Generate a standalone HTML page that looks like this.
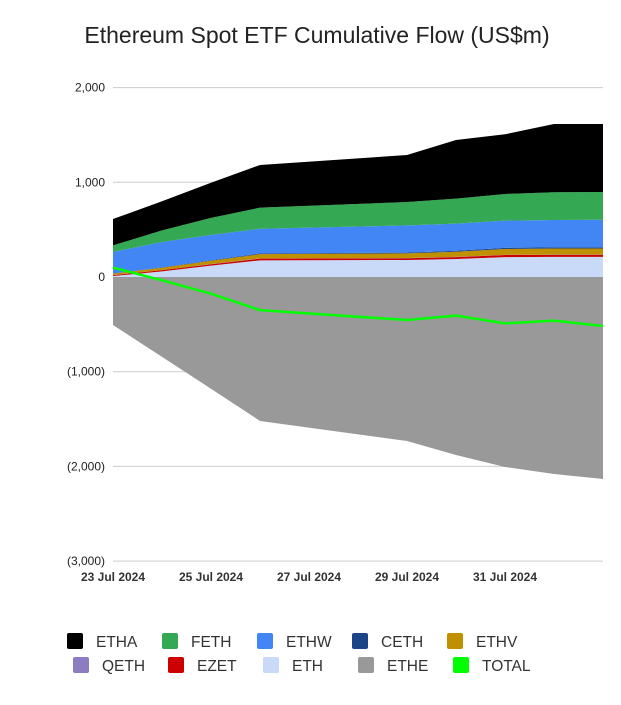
<!DOCTYPE html>
<html><head><meta charset="utf-8"><style>
body{margin:0;background:#fff;width:621px;height:700px;overflow:hidden;font-family:"Liberation Sans",Arial,sans-serif}
</style></head><body>
<svg id="c" width="621" height="700" xmlns="http://www.w3.org/2000/svg">
<text x="317" y="43" text-anchor="middle" font-size="23" fill="#222">Ethereum Spot ETF Cumulative Flow (US$m)</text>
<g id="grid"></g><g id="areas"></g><g id="lines"></g><g id="axes"></g><g id="legend"></g>
</svg>
<script>
const dayIdx=[0,1,2,3,6,7,8,9,10];
const xTickDays=[0,2,4,6,8];
const xTickLabels=["23 Jul 2024","25 Jul 2024","27 Jul 2024","29 Jul 2024","31 Jul 2024"];
const yTicks=[2000,1000,0,-1000,-2000,-3000];
const yTickLabels=["2,000","1,000","0","(1,000)","(2,000)","(3,000)"];
const ETH=[10,60,120,176,180,190,210,212,212];
const EZET=[10,12,15,18,18,20,22,22,22];
const QETH=[1,1,2,2,2,2,2,2,2];
const ETHV=[15,25,35,45,50,55,62,65,65];
const CETH=[2,3,5,8,8,10,12,12,12];
const ETHW=[226,269,268,261,287,286,287,289,292];
const FETH=[70,123,180,222,247,264,282,293,292];
const ETHA=[278,307,370,451,496,620,630,721,719];
const ETHE=[-507,-843,-1180,-1520,-1732,-1880,-2006,-2080,-2133];
const TOTAL=[100,-35,-176,-350,-454,-408,-490,-461,-518];
const NS="http://www.w3.org/2000/svg";
const X=d=>113+d*49;
const Y=v=>277-v*0.0947;
function mk(t,a,p){const e=document.createElementNS(NS,t);for(const k in a)e.setAttribute(k,a[k]);p.appendChild(e);return e;}
const grid=document.getElementById('grid'),axes=document.getElementById('axes');
yTicks.forEach((v,i)=>{
 const l=mk('line',{x1:113,x2:603,y1:Y(v),y2:Y(v),stroke:'#ccc','stroke-width':1},grid);
 
 
 const t=mk('text',{x:105,y:Y(v)+4,'text-anchor':'end','font-size':12,fill:'#222'},axes);
 t.textContent=yTickLabels[i];
 
 
});
xTickDays.forEach((d,i)=>{
 const t=mk('text',{x:X(d),y:581,'text-anchor':'middle','font-size':12,'font-weight':'bold',fill:'#333'},axes);
 t.textContent=xTickLabels[i];
 
 
});
const series=[["ETH",ETH,"#c9daf8"],["EZET",EZET,"#cc0000"],["QETH",QETH,"#8e7cc3"],["ETHV",ETHV,"#bf9000"],["CETH",CETH,"#1c4587"],["ETHW",ETHW,"#4285f4"],["FETH",FETH,"#34a853"],["ETHA",ETHA,"#000000"]];
const areas=document.getElementById('areas');
let base=dayIdx.map(()=>0);
series.forEach(([n,vals,col])=>{
 const top=base.map((b,i)=>b+vals[i]);
 let d="M"+dayIdx.map((dd,i)=>X(dd)+","+Y(top[i])).join("L");
 for(let i=dayIdx.length-1;i>=0;i--)d+="L"+X(dayIdx[i])+","+Y(base[i]);
 const p=mk('path',{d:d+"Z",fill:col},areas);
 
 
 base=top;
});
{let d="M"+dayIdx.map((dd,i)=>X(dd)+","+Y(ETHE[i])).join("L");
 d+="L"+X(10)+","+Y(0)+"L"+X(0)+","+Y(0)+"Z";
 const p=mk('path',{d:d,fill:'#999999'},areas);
 
 }
const tl=mk('polyline',{points:dayIdx.map((dd,i)=>X(dd)+","+Y(TOTAL[i])).join(" "),fill:'none',stroke:'#00ff00','stroke-width':2.5},document.getElementById('lines'));


const leg=[["ETHA","#000000"],["FETH","#34a853"],["ETHW","#4285f4"],["CETH","#1c4587"],["ETHV","#bf9000"],["QETH","#8e7cc3"],["EZET","#cc0000"],["ETH","#c9daf8"],["ETHE","#999999"],["TOTAL","#00ff00"]];
const lg=document.getElementById('legend');
leg.forEach(([n,c],i)=>{
 const r=i<5?0:1, k=i%5;
 const x0=(r?73:67)+k*95, y0=r?657:633;
 const g=mk('g',{},lg);
 
 
 mk('rect',{x:x0,y:y0,width:16,height:16,rx:2,fill:c},g);
 const t=mk('text',{x:x0+29,y:y0+14,'font-size':15.5,fill:'#333'},g);
 t.textContent=n;
});
</script>
</body></html>
